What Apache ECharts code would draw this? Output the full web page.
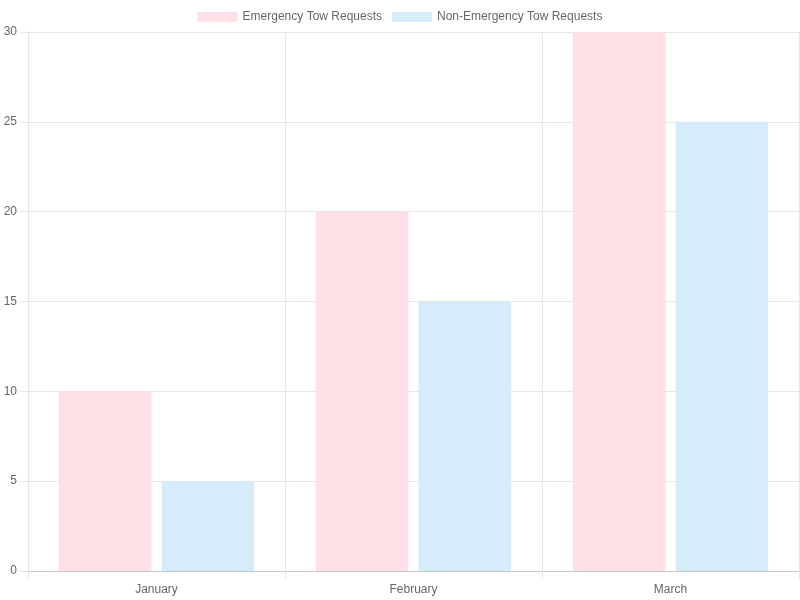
<!DOCTYPE html>
<html><head><meta charset="utf-8">
<script src="https://cdn.jsdelivr.net/npm/echarts@6/dist/echarts.min.js"></script>
<style>html,body{margin:0;padding:0;background:#fff}#c{width:800px;height:600px}</style>
</head><body><div id="c"></div>
<script>
var categories = ['January', 'February', 'March'];
var emergency = [10, 20, 30];
var nonEmergency = [5, 15, 25];
var seriesNames = ['Emergency Tow Requests', 'Non-Emergency Tow Requests'];

var chart = echarts.init(document.getElementById('c'));
var font = 'Liberation Sans, Arial, Helvetica, sans-serif';
chart.setOption({
  animation: false,
  textStyle: { fontFamily: font },
  legend: {
    top: 6, left: 'center',
    itemWidth: 40, itemHeight: 10, itemGap: 10,
    icon: 'rect',
    itemStyle: { borderWidth: 0 },
    textStyle: { color: '#666', fontSize: 12, fontFamily: font },
    data: seriesNames
  },
  grid: { left: 28, right: 1, top: 32, bottom: 29, containLabel: false },
  xAxis: {
    type: 'category', data: categories, boundaryGap: true,
    axisLine: { show: true, lineStyle: { color: '#c8c8c8' } },
    axisTick: { show: true, length: 8, lineStyle: { color: '#e6e6e6' } },
    splitLine: { show: true, lineStyle: { color: '#e6e6e6' } },
    axisLabel: { color: '#666', fontSize: 12, margin: 13, fontFamily: font }
  },
  yAxis: {
    type: 'value', min: 0, max: 30, interval: 5,
    axisLine: { show: true, lineStyle: { color: '#e6e6e6' } },
    axisTick: { show: true, length: 8, lineStyle: { color: '#e6e6e6' } },
    splitLine: { show: true, lineStyle: { color: '#e6e6e6' } },
    axisLabel: { color: '#666', fontSize: 12, margin: 11, fontFamily: font }
  },
  series: [
    { name: seriesNames[0], type: 'bar', data: emergency, barWidth: '36%', barGap: '11%',
      itemStyle: { color: '#ffe0e6', borderColor: '#fedbe1', borderWidth: 1 } },
    { name: seriesNames[1], type: 'bar', data: nonEmergency, barWidth: '36%', barGap: '11%',
      itemStyle: { color: '#d7ecfb', borderColor: '#d3eaf9', borderWidth: 1 } }
  ]
});
</script></body></html>
